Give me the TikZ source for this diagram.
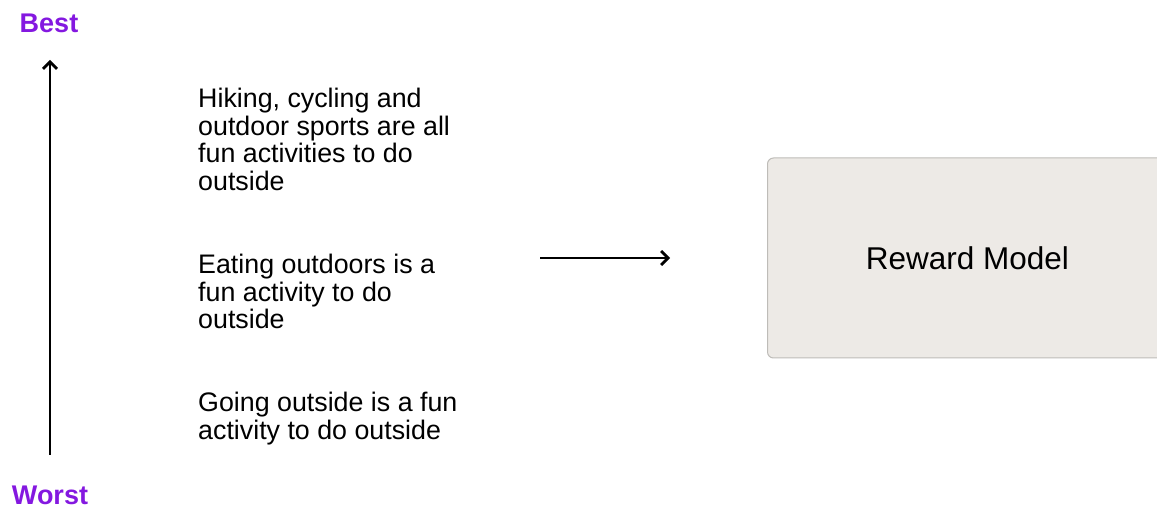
\documentclass[tikz,border=0pt]{standalone}
\usepackage{fontspec}
\setmainfont{Liberation Sans}
\usetikzlibrary{arrows.meta,positioning}

\definecolor{rankpurple}{RGB}{132,24,224}
\definecolor{boxfill}{RGB}{237,234,230}
\definecolor{boxline}{RGB}{190,188,184}

\tikzset{
  rank/.style={text=rankpurple, inner sep=0pt, font=\bfseries\fontsize{27}{30}\selectfont},
  answer/.style={anchor=north west, align=left, inner sep=0pt, font=\fontsize{26.8}{27.5}\selectfont},
  rmbox/.style={draw=boxline, fill=boxfill, line width=1pt, rounded corners=6pt,
    minimum width=400pt, minimum height=200pt, font=\fontsize{31.5}{34}\selectfont},
  tip/.style={-{Straight Barb[length=7pt,width=14pt]}, line width=2.8pt}
}

\begin{document}
\begin{tikzpicture}[x=1pt, y=-1pt]
        \useasboundingbox (0,0) rectangle (1157,510);
        \clip (0,0) rectangle (1157,510);

        % ranking scale
        \node[rank] (best) at (49,23) {Best};
        \node[rank] (worst) at (50,495) {Worst};
        \coordinate (low) at (50,455);
        \coordinate (high) at (50,60);
        \draw[tip] (low) -- (high);

        % answers, best at the top
        \node[answer] (first) at (198,88) {Hiking, cycling and\\outdoor sports are all\\fun activities to do\\outside};
        \node[answer] (second) at (198,254) {Eating outdoors is a\\fun activity to do\\outside};
        \node[answer] (third) at (198,392) {Going outside is a fun\\activity to do outside};

        % reward model
        \node[rmbox, anchor=west] (rm) at (767,258) {Reward Model};
        \coordinate (feed) at (540,258);
        \coordinate (into) at (670,258);
        \draw[tip] (feed) -- (into);
    \end{tikzpicture}
\end{document}
